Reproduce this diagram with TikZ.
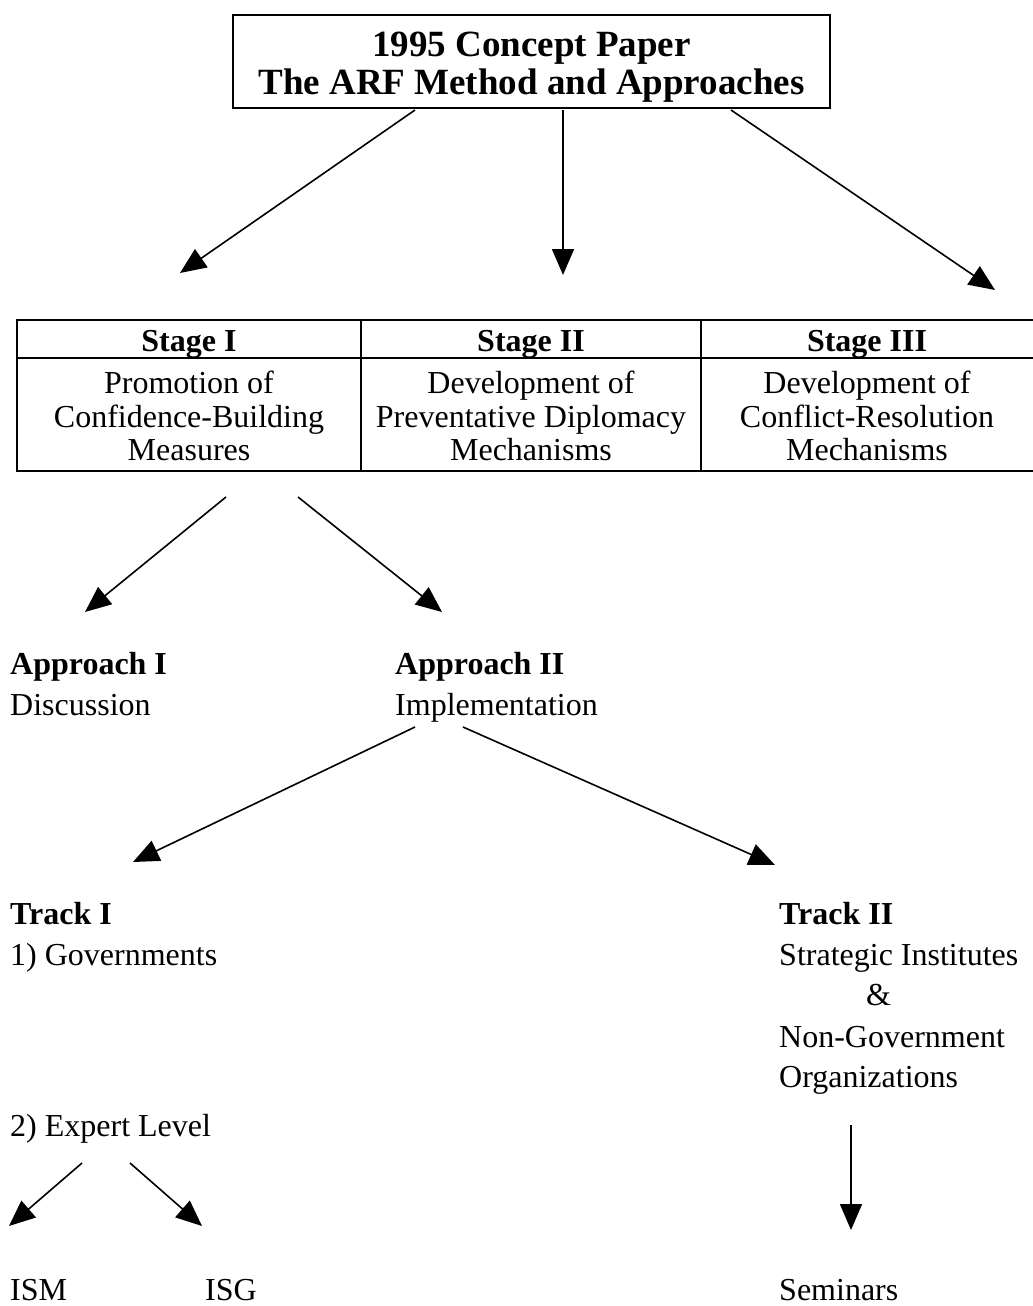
\documentclass[tikz,border=0pt]{standalone}
\usepackage{fontspec}
\setmainfont{Liberation Serif}
\usetikzlibrary{arrows.meta,positioning,calc}

\tikzset{
  arr/.style={line width=1.6pt,-{Triangle[length=26pt,width=22pt]}},
  lbl/.style={anchor=base west,inner sep=0pt,font=\fontsize{32}{38}\selectfont},
  hd/.style={lbl,font=\fontsize{32}{38}\selectfont\bfseries},
  cell/.style={inner sep=0pt,align=center,font=\fontsize{32}{33.5}\selectfont},
}

\begin{document}
\begin{tikzpicture}[x=1pt,y=-1pt]
  \useasboundingbox (0,0) rectangle (1033,1306);
  % Concept paper box
  \draw[line width=2.4pt] (233,15) rectangle (830,108);
  \node[inner sep=0pt,align=center,font=\fontsize{37}{38}\selectfont\bfseries]
        (title) at (531.5,67) {1995 Concept Paper\\The ARF Method and Approaches};
  % three stages (right edge runs off the page)
  \draw[line width=1.8pt] (1040,320) -- (17,320) -- (17,471) -- (1040,471);
  \draw[line width=1.2pt] (17,358) -- (1040,358)
    (361,320) -- (361,471) (701,320) -- (701,471);
  \node[cell,font=\fontsize{32}{33.5}\selectfont\bfseries,anchor=base] (stI) at (189,351) {Stage I};
  \node[cell,font=\fontsize{32}{33.5}\selectfont\bfseries,anchor=base] (stII) at (531,351) {Stage II};
  \node[cell,font=\fontsize{32}{33.5}\selectfont\bfseries,anchor=base] (stIII) at (867,351) {Stage III};
  \node[cell] (cbm) at (189,416) {Promotion of\\Confidence-Building\\Measures};
  \node[cell] (pdm) at (531,416) {Development of\\Preventative Diplomacy\\Mechanisms};
  \node[cell] (crm) at (867,416) {Development of\\Conflict-Resolution\\Mechanisms};
  % approaches
  \node[hd] (apI) at (10,674) {Approach I};
  \node[lbl] (disc) at (10,715) {Discussion};
  \node[hd] (apII) at (395,674) {Approach II};
  \node[lbl] (impl) at (395,715) {Implementation};
  % tracks
  \node[hd] (trI) at (10,924) {Track I};
  \node[lbl] (gov) at (10,965) {1) Governments};
  \node[lbl] (expert) at (10,1136) {2) Expert Level};
  \node[hd] (trII) at (779,924) {Track II};
  \node[lbl] (strat) at (779,965) {Strategic Institutes};
  \node[lbl] (amp) at (866,1005) {\&};
  \node[lbl] (ngo) at (779,1047) {Non-Government};
  \node[lbl] (org) at (779,1087) {Organizations};
  % outcomes
  \node[lbl] (ism) at (10,1300) {ISM};
  \node[lbl] (isg) at (205,1300) {ISG};
  \node[lbl] (sem) at (779,1300) {Seminars};
  % arrow ends
  \coordinate (fromT) at (415,110);
  \coordinate (fromTb) at (563,110);
  \coordinate (fromTc) at (731,110);
  \coordinate (toI) at (180,273);
  \coordinate (toII) at (563,275);
  \coordinate (toIII) at (995,290);
  \coordinate (fromI) at (226,497);
  \coordinate (fromIb) at (298,497);
  \coordinate (toApI) at (85,612);
  \coordinate (toApII) at (442,612);
  \coordinate (fromImpl) at (415,727);
  \coordinate (fromImplb) at (463,727);
  \coordinate (toTrI) at (133,862);
  \coordinate (toTrII) at (775,865);
  \coordinate (fromExp) at (82,1163);
  \coordinate (fromExpb) at (130,1163);
  \coordinate (toIsm) at (9,1226);
  \coordinate (toIsg) at (202,1226);
  \coordinate (fromOrg) at (851,1125);
  \coordinate (toSem) at (851,1230);
  % arrows
  \draw[arr] (fromT) -- (toI);
  \draw[arr] (fromTb) -- (toII);
  \draw[arr] (fromTc) -- (toIII);
  \draw[arr] (fromI) -- (toApI);
  \draw[arr] (fromIb) -- (toApII);
  \draw[arr] (fromImpl) -- (toTrI);
  \draw[arr] (fromImplb) -- (toTrII);
  \draw[arr] (fromExp) -- (toIsm);
  \draw[arr] (fromExpb) -- (toIsg);
  \draw[arr] (fromOrg) -- (toSem);
\end{tikzpicture}
\end{document}
